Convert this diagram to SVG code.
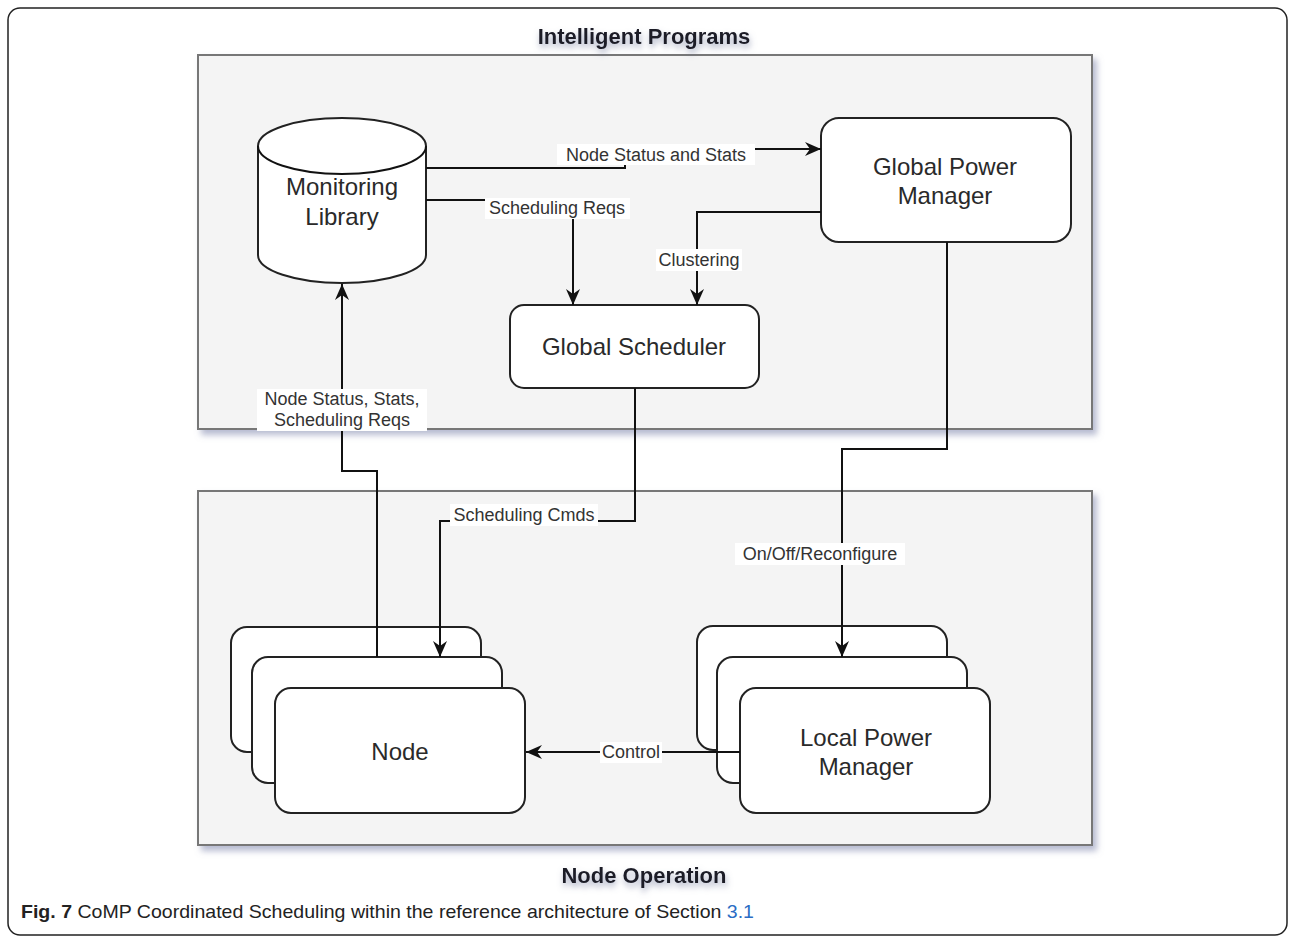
<svg xmlns="http://www.w3.org/2000/svg" width="1290" height="940" viewBox="0 0 1290 940">
  <defs>
    <filter id="panelShadow" x="-5%" y="-5%" width="112%" height="115%">
      <feDropShadow dx="4" dy="5" stdDeviation="3" flood-color="#7c84aa" flood-opacity="0.55"/>
    </filter>
    <filter id="titleShadow" x="-10%" y="-30%" width="120%" height="180%">
      <feDropShadow dx="1" dy="4" stdDeviation="3" flood-color="#6c7498" flood-opacity="0.6"/>
    </filter>
    <marker id="arrow" viewBox="0 0 16 14" refX="16" refY="7" markerWidth="16" markerHeight="14" markerUnits="userSpaceOnUse" orient="auto">
      <path d="M0,0 L16,7 L0,14 L5,7 Z" fill="#111"/>
    </marker>
  </defs>
  <style>
    .panel { fill: #f4f4f4; stroke: #777; stroke-width: 2; }
    .box { fill: #fff; stroke: #222; stroke-width: 2; }
    .node-text { font-family: "Liberation Sans", Arial, sans-serif; font-size: 24px; fill: #2a2a2a; text-anchor: middle; }
    .title { font-family: "Liberation Sans", Arial, sans-serif; font-size: 22px; font-weight: bold; fill: #1e1e28; text-anchor: middle; }
    .edge { fill: none; stroke: #111; stroke-width: 2; }
    .lbl-bg { fill: #fff; }
    .lbl { font-family: "Liberation Sans", Arial, sans-serif; font-size: 18px; fill: #333; text-anchor: middle; dominant-baseline: central; }
    .caption { font-family: "Liberation Sans", Arial, sans-serif; font-size: 19px; fill: #222; }
  </style>

  <!-- page frame -->
  <rect x="8" y="8" width="1279" height="927" rx="12" fill="#fff" stroke="#222" stroke-width="1.5"/>

  <!-- layer panels -->
  <g id="panel-intelligent-programs">
    <rect class="panel" x="198" y="55" width="894" height="374" filter="url(#panelShadow)"/>
    <text class="title" x="644" y="44" filter="url(#titleShadow)">Intelligent Programs</text>
  </g>
  <g id="panel-node-operation">
    <rect class="panel" x="198" y="491" width="894" height="354" filter="url(#panelShadow)"/>
    <text class="title" x="644" y="883" filter="url(#titleShadow)">Node Operation</text>
  </g>

  <!-- nodes -->
  <g id="monitoring-library">
    <path class="box" d="M258,146 A84,28 0 0 1 426,146 V255 A84,28 0 0 1 258,255 Z"/>
    <path class="edge" d="M258,146 A84,28 0 0 0 426,146" stroke="#222"/>
    <text class="node-text" x="342" y="195">Monitoring</text>
    <text class="node-text" x="342" y="225">Library</text>
  </g>
  <g id="global-power-manager">
    <rect class="box" x="821" y="118" width="250" height="124" rx="18"/>
    <text class="node-text" x="945" y="175">Global Power</text>
    <text class="node-text" x="945" y="204">Manager</text>
  </g>
  <g id="global-scheduler">
    <rect class="box" x="510" y="305" width="249" height="83" rx="14"/>
    <text class="node-text" x="634" y="355">Global Scheduler</text>
  </g>
  <g id="node">
    <rect class="box" x="231" y="627" width="250" height="125" rx="16"/>
    <rect class="box" x="252" y="657" width="250" height="126" rx="16"/>
    <rect class="box" x="275" y="688" width="250" height="125" rx="16"/>
    <text class="node-text" x="400" y="760">Node</text>
  </g>
  <g id="local-power-manager">
    <rect class="box" x="697" y="626" width="250" height="124" rx="16"/>
    <rect class="box" x="717" y="657" width="250" height="126" rx="16"/>
    <rect class="box" x="740" y="688" width="250" height="125" rx="16"/>
    <text class="node-text" x="866" y="746">Local Power</text>
    <text class="node-text" x="866" y="775">Manager</text>
  </g>

  <!-- connectors -->
  <g id="connectors">
    <path class="edge" d="M426,168 H625 V149 H821" marker-end="url(#arrow)"/>
    <path class="edge" d="M426,200 H573 V305" marker-end="url(#arrow)"/>
    <path class="edge" d="M821,212 H697 V305" marker-end="url(#arrow)"/>
    <path class="edge" d="M377,657 V471 H342 V284" marker-end="url(#arrow)"/>
    <path class="edge" d="M635,388 V521 H440 V657" marker-end="url(#arrow)"/>
    <path class="edge" d="M947,242 V449 H842 V657" marker-end="url(#arrow)"/>
    <path class="edge" d="M740,752 H526" marker-end="url(#arrow)"/>

    <rect class="lbl-bg" x="557" y="144" width="198" height="21"/>
    <text class="lbl" x="656" y="155">Node Status and Stats</text>
    <path class="edge" d="M557,168 H625"/>

    <rect class="lbl-bg" x="485" y="198" width="145" height="21"/>
    <text class="lbl" x="557" y="208">Scheduling Reqs</text>

    <rect class="lbl-bg" x="656" y="249" width="86" height="22"/>
    <text class="lbl" x="699" y="260">Clustering</text>

    <rect class="lbl-bg" x="257" y="389" width="170" height="42"/>
    <text class="lbl" x="342" y="399">Node Status, Stats,</text>
    <text class="lbl" x="342" y="420">Scheduling Reqs</text>

    <rect class="lbl-bg" x="450" y="504" width="148" height="22"/>
    <text class="lbl" x="524" y="515">Scheduling Cmds</text>

    <rect class="lbl-bg" x="735" y="543" width="170" height="22"/>
    <text class="lbl" x="820" y="554">On/Off/Reconfigure</text>

    <rect class="lbl-bg" x="600" y="742" width="62" height="21"/>
    <text class="lbl" x="631" y="752" fill="#3a4656">Control</text>
  </g>

  <!-- figure caption -->
  <text class="caption" x="21" y="918" textLength="733" lengthAdjust="spacingAndGlyphs"><tspan font-weight="bold">Fig. 7</tspan> CoMP Coordinated Scheduling within the reference architecture of Section <tspan fill="#2b6cc4">3.1</tspan></text>
</svg>
